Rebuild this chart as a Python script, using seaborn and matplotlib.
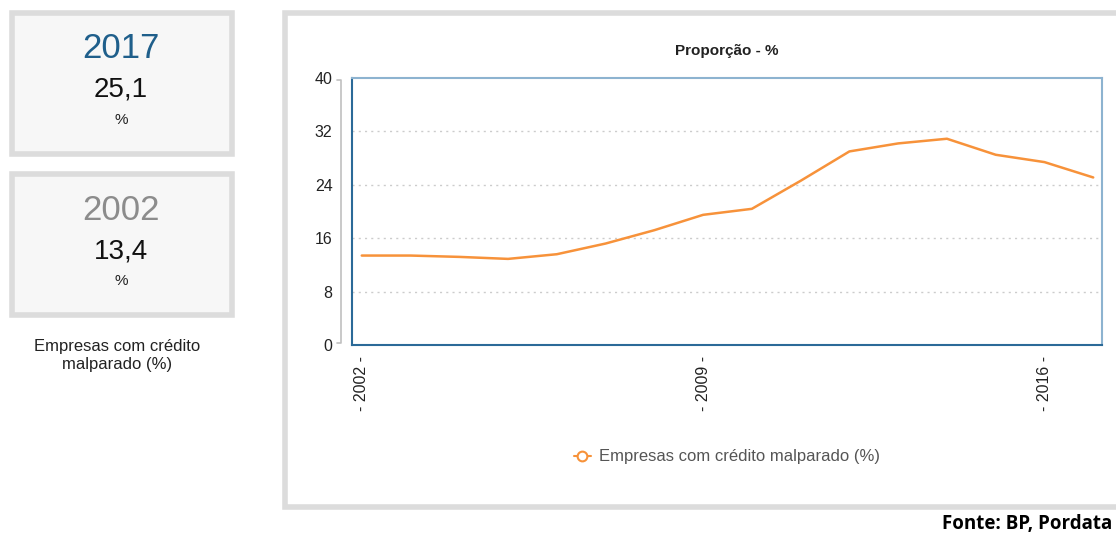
import numpy as np
import pandas as pd
import matplotlib.pyplot as plt
import seaborn as sns
from matplotlib.patches import Rectangle
from matplotlib.lines import Line2D

# Empresas com crédito malparado (%), Portugal
anos = [2002, 2003, 2004, 2005, 2006, 2007, 2008, 2009,
        2010, 2011, 2012, 2013, 2014, 2015, 2016, 2017]
valores = [13.4, 13.4, 13.2, 12.9, 13.6, 15.2, 17.2, 19.5,
           20.4, 24.6, 29.0, 30.2, 30.9, 28.5, 27.4, 25.1]
y_ticks = [0, 8, 16, 24, 32, 40]
x_ticks = [2002, 2009, 2016]
serie = 'Empresas com crédito malparado (%)'

df = pd.DataFrame({'ano': anos, 'valor': valores})

sns.set_style('white')
plt.rcParams['font.family'] = ['Liberation Sans', 'DejaVu Sans']

W, H = 1116, 536
fig = plt.figure(figsize=(W / 100, H / 100), dpi=100)
fig.patch.set_facecolor('white')

def fx(px):
    return px / W

def fy(py):
    return 1 - py / H

# left summary boxes
for top, ano_txt, ano_col, val in [(13, '2017', '#1f5f8b', '25,1'),
                                   (174, '2002', '#8c8c8c', '13,4')]:
    fig.patches.append(Rectangle((fx(12), fy(top + 141)), fx(220), 141 / H,
                                 transform=fig.transFigure, facecolor='#f7f7f7',
                                 edgecolor='#dcdcdc', linewidth=4, zorder=-2))
    fig.text(fx(121), fy(top + 36), ano_txt, color=ano_col, fontsize=25,
             ha='center', va='center')
    fig.text(fx(121), fy(top + 77), val, color='#111111', fontsize=20,
             ha='center', va='center')
    fig.text(fx(121), fy(top + 107), '%', color='#222222', fontsize=11,
             ha='center', va='center')

fig.text(fx(117), fy(356), 'Empresas com crédito\nmalparado (%)', color='#222222',
         fontsize=12, ha='center', va='center', linespacing=1.25)

# chart panel frame (behind the axes)
fig.patches.append(Rectangle((fx(285), fy(507)), fx(840), 494 / H,
                             transform=fig.transFigure, facecolor='white',
                             edgecolor='#dcdcdc', linewidth=4, zorder=-2))

ax = fig.add_axes([fx(352), fy(345), fx(1102 - 352), (345 - 78) / H])
ax.set_zorder(2)
sns.lineplot(data=df, x='ano', y='valor', ax=ax, color='#f7923a', linewidth=1.8,
             legend=False)
ax.set_xlim(2001.8, 2017.18)
ax.set_ylim(0, 40)
ax.set_yticks(y_ticks)
ax.set_yticklabels([str(v) for v in y_ticks])
ax.set_xticks(x_ticks)
ax.set_xticklabels(['- %d -' % v for v in x_ticks], rotation=90)
ax.tick_params(axis='x', length=0, pad=8, labelsize=11.5, labelcolor='#222222')
ax.tick_params(axis='y', length=0, pad=14, labelsize=11.5, labelcolor='#222222')
ax.set_xlabel('')
ax.set_ylabel('')
for v in y_ticks[1:-1]:
    ax.axhline(v, color='#cccccc', linewidth=1, linestyle=(0, (1.5, 3)), zorder=0)
ax.spines['left'].set_color('#2b6a98')
ax.spines['bottom'].set_color('#2b6a98')
ax.spines['top'].set_color('#8db3d0')
ax.spines['right'].set_color('#8db3d0')
for s in ax.spines.values():
    s.set_linewidth(1.5)

# gray y bracket
fig.lines.append(Line2D([fx(337), fx(341), fx(341), fx(337)],
                        [fy(80), fy(80), fy(343), fy(343)],
                        transform=fig.transFigure, color='#c0c0c0', linewidth=1.2))

fig.text(fx(727), fy(51), 'Proporção - %', fontsize=11, fontweight='bold',
         color='#222222', ha='center', va='center')

handle = Line2D([], [], color='#f7923a', marker='o', markersize=7,
                markerfacecolor='white', markeredgewidth=1.5, linewidth=1.5)
fig.legend([handle], [serie], loc='center', bbox_to_anchor=(fx(727), fy(457)),
           frameon=False, fontsize=12, labelcolor='#555555', handlelength=1.0,
           handletextpad=0.5)

fig.text(fx(1112), fy(524), 'Fonte: BP, Pordata', fontsize=13.5, fontweight='bold',
         family=['Open Sans', 'DejaVu Sans'], color='black', ha='right', va='center')

fig.savefig('out.png', dpi=100)
